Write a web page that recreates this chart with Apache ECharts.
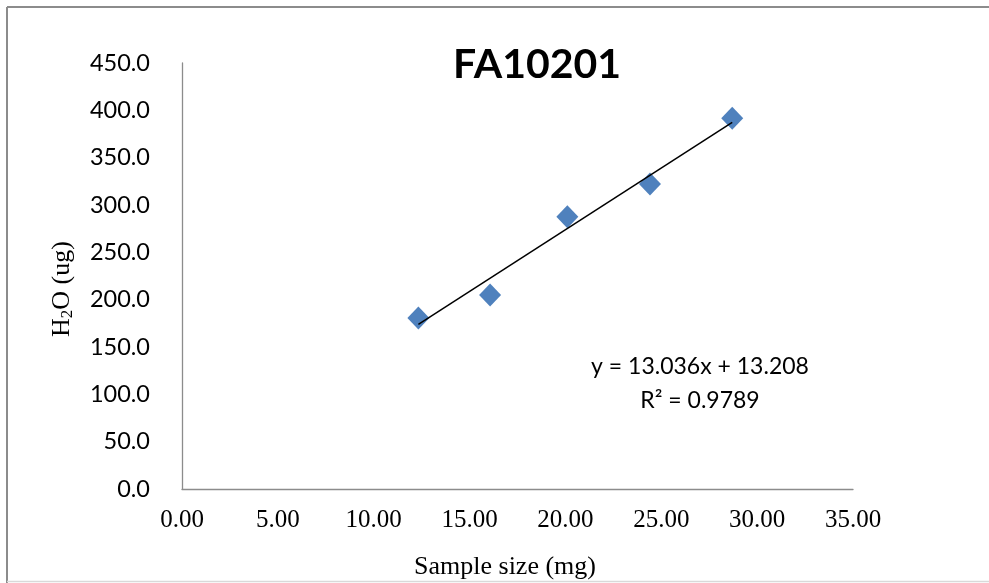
<!DOCTYPE html>
<html>
<head>
<meta charset="utf-8">
<script src="https://cdn.jsdelivr.net/npm/echarts@6/dist/echarts.min.js"></script>
<style>html,body{margin:0;padding:0;background:#fff;}#c{width:989px;height:583px;}</style>
</head>
<body>
<div id="c"></div>
<script>
const titleText = 'FA10201';
const sampleSize = [12.33, 16.07, 20.10, 24.41, 28.70];
const h2o = [180.6, 204.9, 287.6, 322.2, 391.6];
const slope = 13.036;
const intercept = 13.208;
const eqLine1 = 'y = 13.036x + 13.208';
const eqLine2 = 'R² = 0.9789';
const xTicks = { min: 0, max: 35, interval: 5 };
const yTicks = { min: 0, max: 450, interval: 50 };

const pts = sampleSize.map((x, i) => [x, h2o[i]]);
const xMin = Math.min(...sampleSize), xMax = Math.max(...sampleSize);
const trend = [[xMin, slope * xMin + intercept], [xMax, slope * xMax + intercept]];

const chart = echarts.init(document.getElementById('c'));
chart.setOption({
  animation: false,
  backgroundColor: '#fff',
  grid: { left: 182, top: 63, right: 136, bottom: 94 },
  xAxis: {
    type: 'value', min: xTicks.min, max: xTicks.max, interval: xTicks.interval,
    axisLine: { show: true, lineStyle: { color: '#8c8c8c', width: 1.3 } },
    axisTick: { show: false },
    splitLine: { show: false },
    axisLabel: { formatter: v => v.toFixed(2), fontFamily: 'Liberation Serif', fontSize: 25, color: '#000', margin: 19 }
  },
  yAxis: {
    type: 'value', min: yTicks.min, max: yTicks.max, interval: yTicks.interval,
    axisLine: { show: true, lineStyle: { color: '#8c8c8c', width: 1.3 } },
    axisTick: { show: false },
    splitLine: { show: false },
    axisLabel: { formatter: v => v.toFixed(1), fontFamily: 'Lato', fontSize: 23.5, color: '#000', margin: 32 }
  },
  series: [
    {
      type: 'line', data: trend, symbol: 'none', silent: true,
      lineStyle: { color: '#000', width: 1.5 }, z: 3
    },
    {
      type: 'scatter', data: pts, symbol: 'diamond', symbolSize: [22, 23],
      itemStyle: { color: '#4F81BD', opacity: 1 }, z: 2
    }
  ],
  graphic: [
    { type: 'line', shape: { x1: 7, y1: 7, x2: 989, y2: 7 }, style: { stroke: '#8c8c8c', lineWidth: 2 } },
    { type: 'line', shape: { x1: 7, y1: 7, x2: 7, y2: 583 }, style: { stroke: '#8c8c8c', lineWidth: 2 } },
    { type: 'line', shape: { x1: 7, y1: 581.5, x2: 989, y2: 581.5 }, style: { stroke: '#d9d9d9', lineWidth: 1.5 } },
    { type: 'text', x: 537, y: 65, style: { text: titleText, font: 'bold 41px Lato', fill: '#000', align: 'center', verticalAlign: 'middle' } },
    { type: 'text', x: 700, y: 367, style: { text: eqLine1, font: '23px Lato', fill: '#000', align: 'center', verticalAlign: 'middle' } },
    { type: 'text', x: 700, y: 401, style: { text: eqLine2, font: '23px Lato', fill: '#000', align: 'center', verticalAlign: 'middle' } },
    { type: 'text', x: 505, y: 567, style: { text: 'Sample size (mg)', font: '26px "Liberation Serif"', fill: '#000', align: 'center', verticalAlign: 'middle' } },
    {
      type: 'text', x: 62, y: 289, rotation: Math.PI / 2,
      style: {
        text: '{a|H}{s|2}{a|O (ug)}', align: 'center', verticalAlign: 'middle',
        rich: {
          a: { font: '26px "Liberation Serif"', fill: '#000' },
          s: { font: '17px "Liberation Serif"', fill: '#000', padding: [12, 0, 0, 0] }
        }
      }
    }
  ]
});
</script>
</body>
</html>
